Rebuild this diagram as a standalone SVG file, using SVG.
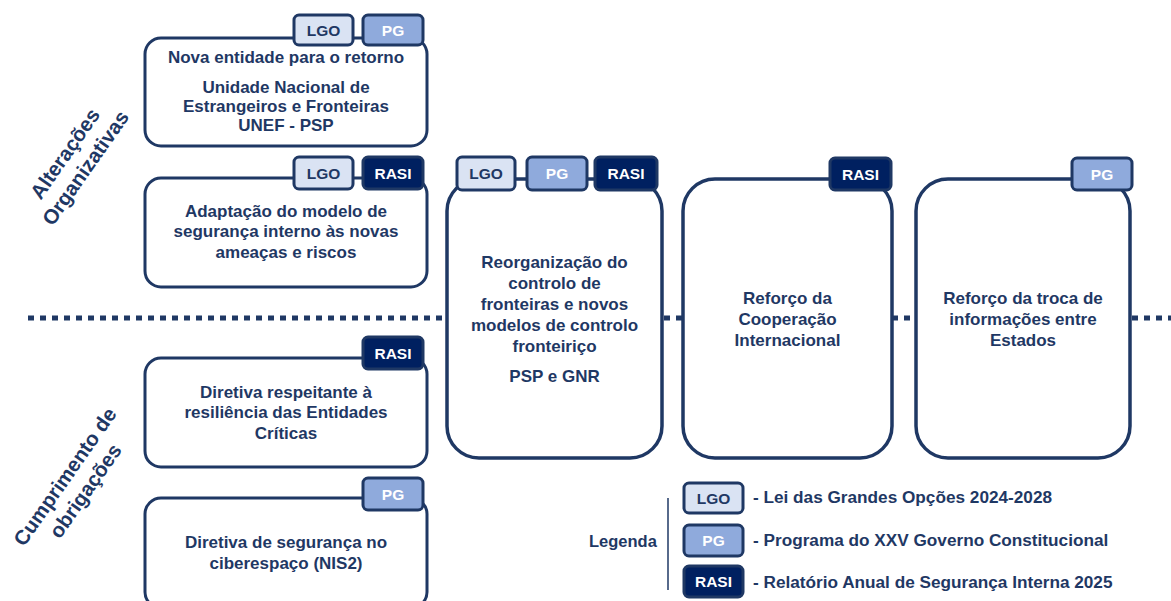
<svg xmlns="http://www.w3.org/2000/svg" width="1171" height="601" viewBox="0 0 1171 601">
<style>
text{font-family:"Liberation Sans",Arial,sans-serif;font-weight:bold;fill:#1F3864}
.t{font-size:17px;text-anchor:middle}
.side{font-size:20.5px;text-anchor:middle}
.box{fill:#fff;stroke:#1F3864;stroke-width:3}
.big{fill:#fff;stroke:#1F3864;stroke-width:3.5}
.b{stroke:#1F3864;stroke-width:3}
.lgo{fill:#DAE3F3}
.pg{fill:#8FAADC}
.rasi{fill:#002060}
.bt{font-size:15.5px;text-anchor:middle}
.w{fill:#fff}
.lg{font-size:17.2px}
</style>
<rect width="1171" height="601" fill="#fff"/>
<g id="connectors">
<line x1="28" y1="318" x2="1171" y2="318" stroke="#1F3864" stroke-width="5" stroke-dasharray="6 6"/>
<line x1="668" y1="498" x2="668" y2="590" stroke="#1F3864" stroke-width="1.5"/>
</g>
<g id="label-alteracoes" transform="translate(74,160) rotate(-55)">
<text class="side" x="0" y="-4">Alterações</text>
<text class="side" x="0" y="21">Organizativas</text>
</g>
<g id="label-cumprimento" transform="translate(74,483) rotate(-55)">
<text class="side" x="0" y="-4">Cumprimento de</text>
<text class="side" x="0" y="21">obrigações</text>
</g>
<g id="node-unef">
<rect class="box" x="145" y="38" width="282" height="108" rx="16"/>
<rect class="b lgo" x="294" y="15" width="59" height="30" rx="5"/>
<text class="bt" x="323.5" y="36">LGO</text>
<rect class="b pg" x="363" y="15" width="60" height="30" rx="5"/>
<text class="bt w" x="393" y="36">PG</text>
<text class="t" x="286" y="63">Nova entidade para o retorno</text>
<text class="t" x="286" y="93">Unidade Nacional de</text>
<text class="t" x="286" y="112">Estrangeiros e Fronteiras</text>
<text class="t" x="286" y="131">UNEF - PSP</text>
</g>
<g id="node-adaptacao">
<rect class="box" x="145" y="178" width="282" height="109" rx="16"/>
<rect class="b lgo" x="294" y="157" width="59" height="32" rx="5"/>
<text class="bt" x="323.5" y="179">LGO</text>
<rect class="b rasi" x="363" y="157" width="60" height="32" rx="5"/>
<text class="bt w" x="393" y="179">RASI</text>
<text class="t" x="286" y="217">Adaptação do modelo de</text>
<text class="t" x="286" y="237">segurança interno às novas</text>
<text class="t" x="286" y="258">ameaças e riscos</text>
</g>
<g id="node-resiliencia">
<rect class="box" x="145" y="358" width="282" height="109" rx="16"/>
<rect class="b rasi" x="363" y="337" width="60" height="32" rx="5"/>
<text class="bt w" x="393" y="359">RASI</text>
<text class="t" x="286" y="398">Diretiva respeitante à</text>
<text class="t" x="286" y="418">resiliência das Entidades</text>
<text class="t" x="286" y="439">Críticas</text>
</g>
<g id="node-nis2">
<rect class="box" x="145" y="498" width="282" height="110" rx="16"/>
<rect class="b pg" x="363" y="478" width="60" height="32" rx="5"/>
<text class="bt w" x="393" y="500">PG</text>
<text class="t" x="286" y="548">Diretiva de segurança no</text>
<text class="t" x="286" y="569">ciberespaço (NIS2)</text>
</g>
<g id="node-reorganizacao">
<rect class="big" x="447" y="179" width="215" height="279" rx="32"/>
<rect class="b lgo" x="457" y="157" width="58" height="33" rx="5"/>
<text class="bt" x="486" y="179">LGO</text>
<rect class="b pg" x="527" y="157" width="60" height="33" rx="5"/>
<text class="bt w" x="557" y="179">PG</text>
<rect class="b rasi" x="595" y="157" width="62" height="33" rx="5"/>
<text class="bt w" x="626" y="179">RASI</text>
<text class="t" x="554.5" y="268">Reorganização do</text>
<text class="t" x="554.5" y="289">controlo de</text>
<text class="t" x="554.5" y="310">fronteiras e novos</text>
<text class="t" x="554.5" y="331">modelos de controlo</text>
<text class="t" x="554.5" y="352">fronteiriço</text>
<text class="t" x="554.5" y="382">PSP e GNR</text>
</g>
<g id="node-cooperacao">
<rect class="big" x="683" y="179" width="209" height="279" rx="32"/>
<rect class="b rasi" x="830" y="158" width="61" height="32" rx="5"/>
<text class="bt w" x="860.5" y="180">RASI</text>
<text class="t" x="787.5" y="304">Reforço da</text>
<text class="t" x="787.5" y="325">Cooperação</text>
<text class="t" x="787.5" y="346">Internacional</text>
</g>
<g id="node-troca">
<rect class="big" x="916" y="179" width="214" height="279" rx="32"/>
<rect class="b pg" x="1072" y="158" width="60" height="32" rx="5"/>
<text class="bt w" x="1102" y="180">PG</text>
<text class="t" x="1023" y="304">Reforço da troca de</text>
<text class="t" x="1023" y="325">informações entre</text>
<text class="t" x="1023" y="346">Estados</text>
</g>
<g id="legend">
<text class="lg" x="589" y="547" style="font-size:16.5px">Legenda</text>
<rect class="b lgo" x="684" y="483" width="59" height="30" rx="5"/>
<text class="bt" x="713.5" y="504">LGO</text>
<text class="lg" x="753" y="503">- Lei das Grandes Opções 2024-2028</text>
<rect class="b pg" x="684" y="525" width="59" height="31" rx="5"/>
<text class="bt w" x="713.5" y="546">PG</text>
<text class="lg" x="753" y="546">- Programa do XXV Governo Constitucional</text>
<rect class="b rasi" x="684" y="566" width="59" height="31" rx="5"/>
<text class="bt w" x="713.5" y="587">RASI</text>
<text class="lg" x="753" y="588">- Relatório Anual de Segurança Interna 2025</text>
</g>
</svg>
